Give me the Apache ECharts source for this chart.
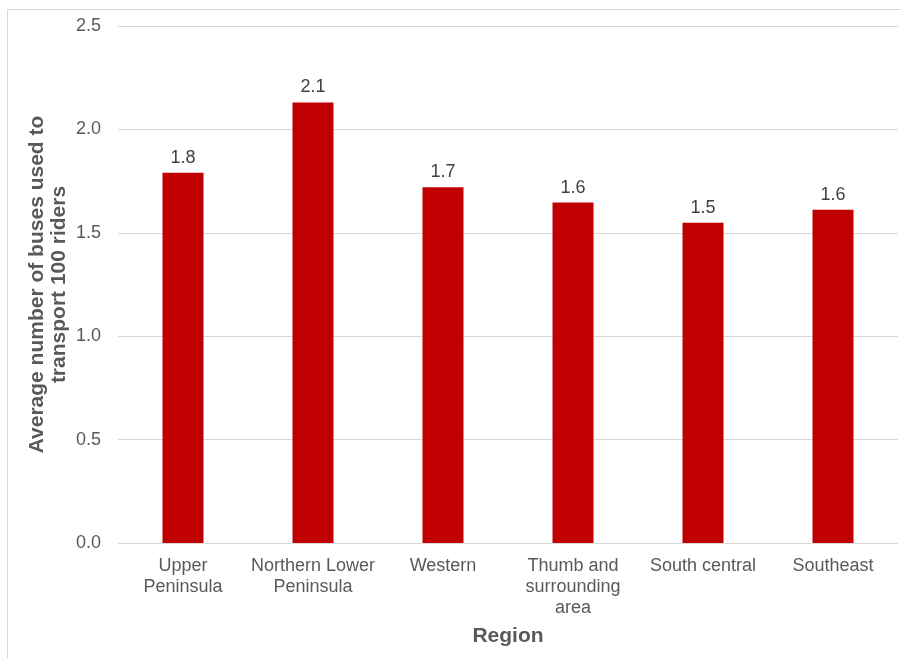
<!DOCTYPE html>
<html>
<head>
<meta charset="utf-8">
<script src="https://cdn.jsdelivr.net/npm/echarts@6/dist/echarts.min.js"></script>
<style>
  html, body { margin: 0; padding: 0; background: #fff; }
  #main { width: 901px; height: 658px; }
</style>
</head>
<body>
<div id="main"></div>
<script>
// 区域与数值
var regions = ['Upper\nPeninsula', 'Northern Lower\nPeninsula', 'Western', 'Thumb and\nsurrounding\narea', 'South central', 'Southeast'];
var busesPer100 = [1.79, 2.13, 1.72, 1.646, 1.549, 1.612];
var yTicks = [0, 0.5, 1.0, 1.5, 2.0, 2.5];

var myChart = echarts.init(document.getElementById('main'));

myChart.setOption({
    animation: false,
    textStyle: { fontFamily: 'Liberation Sans, Arial, sans-serif' },
    graphic: [{
        type: 'rect',
        shape: { x: 7.5, y: 9.5, width: 900, height: 660 },
        style: { fill: 'none', stroke: '#d9d9d9', lineWidth: 1 },
        silent: true
    }],
    grid: {
        left: 118,
        right: 3,
        top: 26,
        bottom: 115
    },
    xAxis: {
        type: 'category',
        data: regions,
        name: 'Region',
        nameLocation: 'middle',
        nameGap: 83,
        nameMoveOverlap: false,
        nameTextStyle: { fontSize: 21, fontWeight: 'bold', color: '#595959' },
        axisLine: { lineStyle: { color: '#d9d9d9' } },
        axisTick: { show: false },
        axisLabel: { interval: 0, fontSize: 18, color: '#595959', lineHeight: 21, margin: 13 }
    },
    yAxis: {
        type: 'value',
        min: yTicks[0],
        max: yTicks[yTicks.length - 1],
        interval: 0.5,
        name: 'Average number of buses used to\ntransport 100 riders',
        nameLocation: 'middle',
        nameRotate: 90,
        nameGap: 48,
        nameMoveOverlap: false,
        nameTextStyle: { fontSize: 21, fontWeight: 'bold', color: '#595959', lineHeight: 22 },
        axisLabel: {
            fontSize: 18,
            color: '#595959',
            margin: 17,
            formatter: function (v) { return v.toFixed(1); }
        },
        splitLine: { lineStyle: { color: '#d9d9d9' } }
    },
    series: [{
        type: 'bar',
        data: busesPer100,
        barWidth: 41,
        itemStyle: { color: '#c00000' },
        label: {
            show: true,
            position: 'top',
            distance: 6,
            fontSize: 18,
            color: '#404040',
            formatter: function (p) { return p.value.toFixed(1); }
        }
    }]
});
</script>
</body>
</html>
